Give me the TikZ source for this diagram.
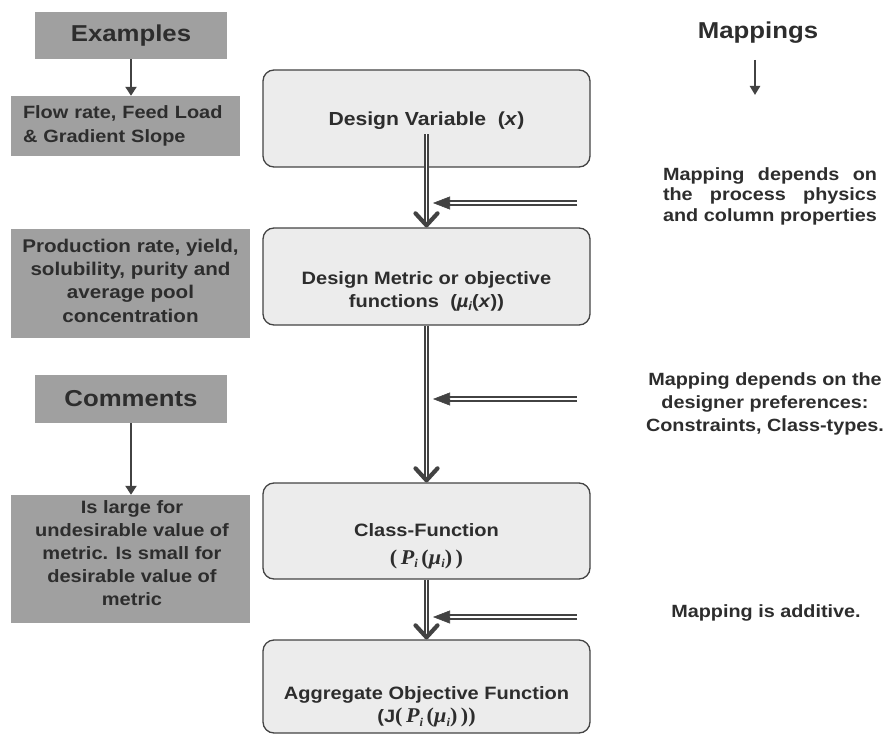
\documentclass[tikz,border=0pt]{standalone}
\usepackage{fontspec}
\setmainfont[FakeStretch=1.12]{Liberation Sans}
\newfontfamily\tmsfont[FakeStretch=1.05]{Liberation Serif}
\usetikzlibrary{arrows.meta}
\definecolor{txt}{RGB}{45,45,45}
\definecolor{boxgray}{RGB}{160,160,160}
\definecolor{mainfill}{RGB}{236,236,236}
\definecolor{edge}{RGB}{68,68,68}
\definecolor{arr}{RGB}{66,66,66}
\newcommand{\sbi}{\raisebox{-0.35ex}{\fontsize{12}{12}\selectfont\itshape i}}
\newcommand{\Pmu}{{\fontsize{21}{22}\selectfont\tmsfont\bfseries\itshape P\sbi\,\upshape(\itshape\textmu\sbi\upshape)}}
\newcommand{\serp}[1]{{\fontsize{21}{22}\selectfont\tmsfont #1}}
\tikzset{
  graybox/.style={fill=boxgray, draw=none, inner sep=0pt, text=txt},
  mainbox/.style={draw=edge, fill=mainfill, rounded corners=11pt, line width=1.3pt, inner sep=0pt},
  lbl/.style={text=txt, font=\fontsize{17.9}{22.8}\selectfont\bfseries, inner sep=0pt, align=center},
  headlbl/.style={text=txt, font=\fontsize{23}{26}\selectfont\bfseries, inner sep=0pt},
  rtxt/.style={text=txt, font=\fontsize{17.7}{20.5}\selectfont\bfseries, inner sep=0pt},
  thinarrow/.style={draw=arr, line width=2.8pt, -{Triangle[length=9pt,width=11pt]}},
  vline/.style={draw=arr, double=white, double distance=1.7pt, line width=1.5pt},
  hline/.style={draw=arr, double=white, double distance=1.5pt, line width=2.1pt},
  vtip/.style={draw=arr, line width=4.2pt, line cap=round, line join=round},
  htip/.style={draw=arr, fill=arr, line width=0.6pt, -{Triangle[length=17pt,width=13pt]}}
}
\begin{document}
\begin{tikzpicture}[x=1pt,y=-1pt]
\useasboundingbox (0,0) rectangle (890,735);

% left column
\node[graybox, minimum width=192pt, minimum height=47pt, font=\fontsize{23}{26}\selectfont\bfseries] (ex) at (131,35.5) {Examples};
\node[graybox, minimum width=229pt, minimum height=60pt, text width=205pt, inner xsep=12pt, align=left, font=\fontsize{17.8}{23.5}\selectfont\bfseries] (flow) at (125.5,126) {Flow rate, Feed Load\\ \& Gradient Slope};
\node[graybox, minimum width=239pt, minimum height=109pt] (prod) at (130.5,283.5) {};
\node[lbl, font=\fontsize{18.4}{23.3}\selectfont\bfseries] (prodt) at (130.5,280.5) {Production rate, yield,\\ solubility, purity and\\ average pool\\ concentration};
\node[graybox, minimum width=192pt, minimum height=48pt, font=\fontsize{23}{26}\selectfont\bfseries] (com) at (131,399) {Comments};
\node[graybox, minimum width=239pt, minimum height=128pt] (islg) at (130.5,559) {};
\node[lbl] (islgt) at (132,553) {Is large for\\ undesirable value of\\ metric. Is small for\\ desirable value of\\ metric};

\draw[thinarrow] (ex.south) -- (ex.south |- flow.north);
\draw[thinarrow] (com.south) -- (com.south |- islg.north);

% main column
\node[mainbox, minimum width=327pt, minimum height=97pt] (dv) at (426.5,118.5) {};
\node[mainbox, minimum width=327pt, minimum height=97pt] (dm) at (426.5,276.5) {};
\node[mainbox, minimum width=327pt, minimum height=96pt] (cf) at (426.5,531) {};
\node[mainbox, minimum width=327pt, minimum height=93pt] (aof) at (426.5,686.5) {};

\node[lbl, font=\fontsize{18.9}{22.8}\selectfont\bfseries] (dvt) at (426.5,121) {Design Variable\ \ (\textit{x})};
\node[lbl] (dmt) at (426.5,291) {Design Metric or objective\\ functions\ \ (\textit{\textmu\sbi}(\textit{x}))};
\node[lbl] (cft) at (426.5,546) {Class-Function\\[5pt] \serp{\bfseries(\,\Pmu\,)}};
\node[lbl] (aoft) at (426.5,707) {Aggregate Objective Function\\ (J\serp{\bfseries(\,\Pmu\,))}};

% vertical double arrows
\draw[vline, shorten >=3pt] ([yshift=-4pt]dvt.south) -- (dm.north);
\draw[vtip] ([shift={(-11pt,14pt)}]dm.north) -- ([yshift=2pt]dm.north) -- ([shift={(11pt,14pt)}]dm.north);
\draw[vline, shorten >=3pt] (dm.south) -- (cf.north);
\draw[vtip] ([shift={(-11pt,14pt)}]cf.north) -- ([yshift=2pt]cf.north) -- ([shift={(11pt,14pt)}]cf.north);
\draw[vline, shorten >=3pt] (cf.south) -- (aof.north);
\draw[vtip] ([shift={(-11pt,14pt)}]aof.north) -- ([yshift=2pt]aof.north) -- ([shift={(11pt,14pt)}]aof.north);

% mappings column
\node[headlbl] (map) at (758,33) {Mappings};
\coordinate (mapa) at (755,60);
\coordinate (mapb) at (755,95);
\draw[draw=arr, line width=2.4pt, -{Triangle[length=9pt,width=10pt]}] (mapa) -- (mapb);

\node[rtxt, align=left] (t1) at (770,196) {\makebox[214pt][s]{Mapping depends on}\\ \makebox[214pt][s]{the process physics}\\ \makebox[214pt][s]{and column properties}};
\node[rtxt, align=center, font=\fontsize{17.7}{23}\selectfont\bfseries] (t2) at (765,404) {Mapping depends on the\\ designer preferences:\\ Constraints, Class-types.};
\node[rtxt] (t3) at (766,613) {Mapping is additive.};

\coordinate (h1s) at (577,203); \coordinate (h1e) at (433,203);
\coordinate (h2s) at (577,399); \coordinate (h2e) at (433,399);
\coordinate (h3s) at (577,617); \coordinate (h3e) at (433,617);
\draw[hline, shorten >=14pt] (h1s) -- (h1e);
\draw[htip] ([xshift=4pt]h1e) -- (h1e);
\draw[hline, shorten >=14pt] (h2s) -- (h2e);
\draw[htip] ([xshift=4pt]h2e) -- (h2e);
\draw[hline, shorten >=14pt] (h3s) -- (h3e);
\draw[htip] ([xshift=4pt]h3e) -- (h3e);
\end{tikzpicture}
\end{document}
